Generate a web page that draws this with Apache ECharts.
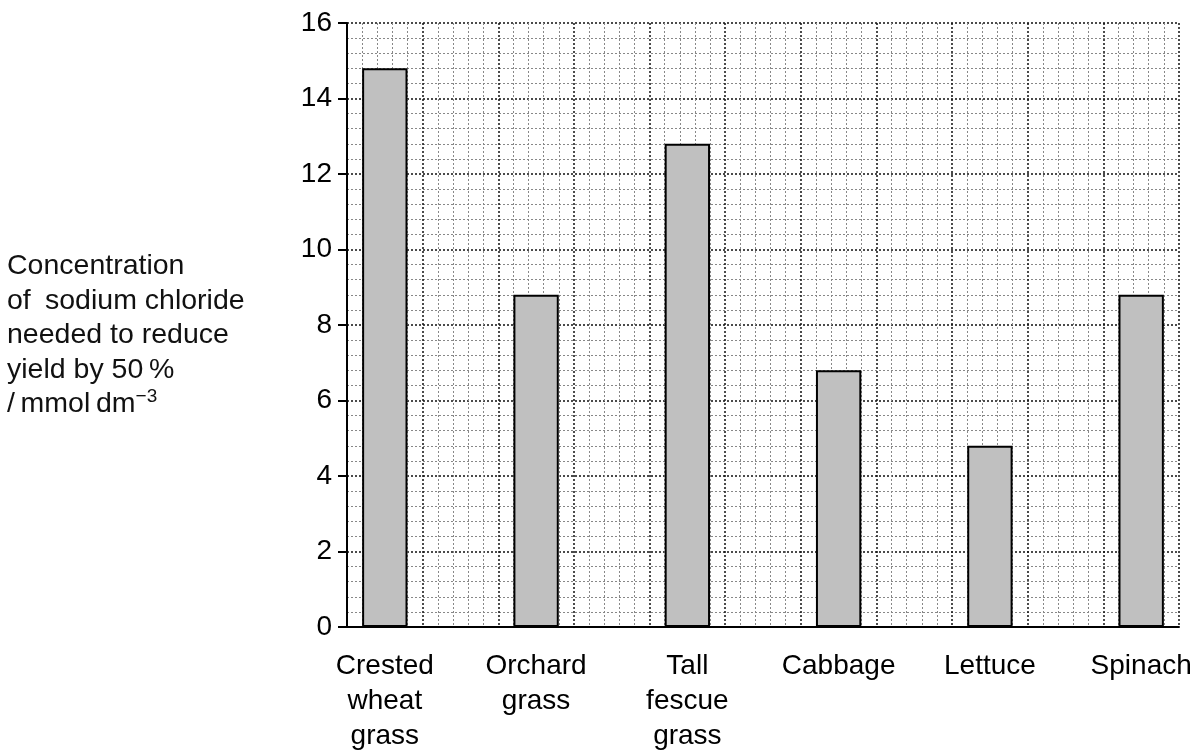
<!DOCTYPE html>
<html>
<head>
<meta charset="utf-8">
<script src="https://cdn.jsdelivr.net/npm/echarts@6/dist/echarts.min.js"></script>
<style>
html,body{margin:0;padding:0;background:#fff;}
#chart{width:1198px;height:751px;}
</style>
</head>
<body>
<div id="chart"></div>
<script>
const categories = ['Crested\nwheat\ngrass', 'Orchard\ngrass', 'Tall\nfescue\ngrass', 'Cabbage', 'Lettuce', 'Spinach'];
const values = [14.8, 8.8, 12.8, 6.8, 4.8, 8.8];
const yTicks = [0, 2, 4, 6, 8, 10, 12, 14, 16];

// 11 grid columns; each plant sits in every other column
const slots = [];
const slotValues = [];
categories.forEach((c, i) => {
  slots.push(c); slotValues.push(values[i]);
  if (i < categories.length - 1) { slots.push(''); slotValues.push(null); }
});

const font = 'Liberation Sans';
const sp = '\u2002';
const chart = echarts.init(document.getElementById('chart'));
chart.setOption({
  animation: false,
  backgroundColor: '#fff',
  grid: { left: 347, right: 19, top: 23, bottom: 124, containLabel: false, outerBoundsMode: 'none' },
  xAxis: [
    {
      type: 'value', min: 0, max: slots.length, interval: 1, position: 'top',
      axisLine: { show: false }, axisTick: { show: false }, axisLabel: { show: false },
      splitLine: { show: true, lineStyle: { color: '#111', width: 1.5, type: [2, 2] } },
      minorTick: { show: false, splitNumber: 5 },
      minorSplitLine: { show: true, lineStyle: { color: '#888', width: 1, type: [2, 2] } }
    },
    {
      type: 'category', data: slots, position: 'bottom', boundaryGap: true,
      axisLine: { show: true, lineStyle: { color: '#000', width: 2 } },
      axisTick: { show: false },
      splitLine: { show: false },
      axisLabel: { interval: 0, color: '#000', fontFamily: font, fontSize: 28, lineHeight: 35, margin: 22, align: 'center' }
    }
  ],
  yAxis: {
    type: 'value', min: yTicks[0], max: yTicks[yTicks.length - 1], interval: 2,
    axisLine: { show: true, lineStyle: { color: '#000', width: 2 } },
    axisTick: { show: true, length: 9, lineStyle: { color: '#000', width: 2 } },
    axisLabel: { color: '#000', fontFamily: font, fontSize: 28, margin: 15 },
    splitLine: { show: true, lineStyle: { color: '#111', width: 1.5, type: [2, 2] } },
    minorTick: { show: false, splitNumber: 5 },
    minorSplitLine: { show: true, lineStyle: { color: '#888', width: 1, type: [2, 2] } }
  },
  series: [{
    type: 'bar', xAxisIndex: 1, data: slotValues, barWidth: '60%',
    itemStyle: { color: '#c0c0c0', borderColor: '#000', borderWidth: 2 }
  }],
  graphic: [{
    type: 'text', left: 7, top: 249,
    style: {
      text: 'Concentration\nof' + sp + 'sodium chloride\nneeded to reduce\nyield by 50\u2009%\n/\u2009mmol\u2009dm{sup|−3}',
      fontFamily: font, fontSize: 28.5, lineHeight: 34.5, fill: '#111',
      rich: { sup: { fontSize: 19, fontFamily: font, verticalAlign: 'top', padding: [0, 0, 14, 0], fill: '#111' } }
    }
  }]
});
</script>
</body>
</html>
